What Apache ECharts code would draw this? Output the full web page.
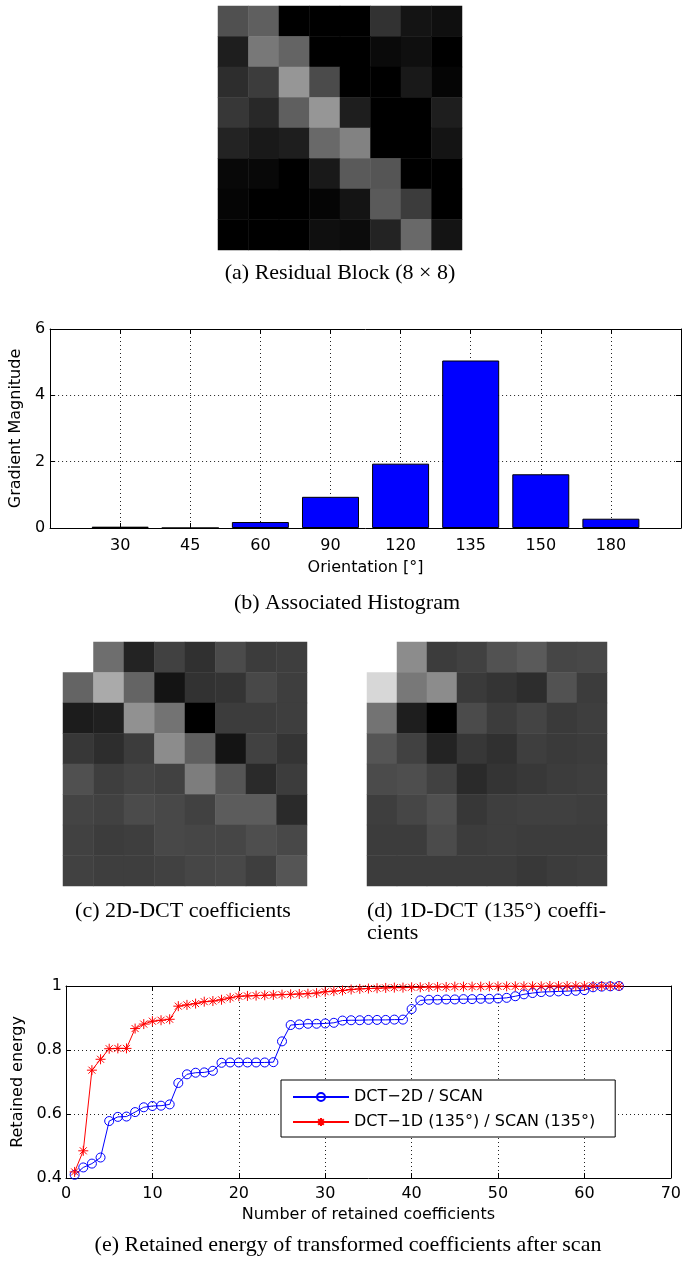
<!DOCTYPE html>
<html>
<head>
<meta charset="utf-8">
<script src="https://cdn.jsdelivr.net/npm/echarts@6/dist/echarts.min.js"></script>
<style>
html,body{margin:0;padding:0;background:#fff}
#main{width:684px;height:1264px}
</style>
</head>
<body>
<div id="main"></div>
<script>
// grey levels (0 = black, 255 = white)
var residualBlock = [
    [80, 95, 0, 0, 0, 50, 20, 15],
    [30, 120, 100, 0, 0, 10, 15, 0],
    [45, 60, 150, 75, 0, 0, 25, 5],
    [55, 40, 95, 150, 30, 0, 0, 30],
    [35, 25, 30, 105, 130, 0, 0, 20],
    [8, 8, 0, 25, 90, 85, 0, 0],
    [5, 0, 0, 5, 20, 90, 60, 0],
    [0, 0, 0, 15, 12, 35, 105, 20]
];
// DC cell left blank (null)
var dct2d = [
    [null, 110, 35, 65, 48, 75, 60, 62],
    [100, 170, 100, 20, 50, 52, 72, 62],
    [28, 32, 145, 115, 0, 60, 60, 62],
    [55, 45, 60, 140, 95, 20, 65, 52],
    [80, 62, 68, 65, 125, 85, 42, 60],
    [68, 65, 75, 72, 65, 92, 92, 42],
    [65, 60, 62, 72, 70, 70, 78, 72],
    [65, 62, 62, 65, 70, 72, 62, 85]
];
var dct1d = [
    [null, 140, 60, 65, 82, 90, 70, 72],
    [215, 120, 140, 58, 52, 45, 82, 60],
    [115, 30, 0, 75, 60, 68, 58, 62],
    [85, 65, 35, 55, 48, 62, 58, 60],
    [75, 78, 65, 42, 52, 56, 60, 62],
    [62, 70, 80, 55, 62, 64, 64, 62],
    [60, 60, 75, 60, 62, 60, 60, 60],
    [60, 60, 60, 60, 60, 56, 60, 62]
];

var orientations = ['30', '45', '60', '90', '120', '135', '150', '180'];
var gradMag = [0.04, 0, 0.18, 0.94, 1.94, 5.05, 1.62, 0.28];

var energy2d = [0.410, 0.433, 0.445, 0.464, 0.578, 0.591, 0.592, 0.606, 0.621, 0.625,
    0.626, 0.630, 0.697, 0.724, 0.729, 0.730, 0.735, 0.760, 0.761, 0.761,
    0.761, 0.761, 0.761, 0.762, 0.827, 0.878, 0.880, 0.882, 0.882, 0.883,
    0.885, 0.892, 0.893, 0.893, 0.894, 0.894, 0.894, 0.895, 0.895, 0.928,
    0.955, 0.957, 0.957, 0.958, 0.958, 0.959, 0.959, 0.960, 0.960, 0.961,
    0.963, 0.968, 0.974, 0.978, 0.981, 0.982, 0.983, 0.984, 0.985, 0.987,
    0.996, 0.998, 0.999, 1.000];
var energy1d = [0.419, 0.485, 0.737, 0.771, 0.804, 0.805, 0.805, 0.867, 0.881, 0.890,
    0.893, 0.896, 0.937, 0.941, 0.945, 0.951, 0.953, 0.957, 0.963, 0.968,
    0.969, 0.970, 0.971, 0.972, 0.973, 0.974, 0.975, 0.976, 0.978, 0.982,
    0.984, 0.986, 0.989, 0.991, 0.992, 0.993, 0.994, 0.995, 0.995, 0.996,
    0.996, 0.997, 0.997, 0.997, 0.998, 0.998, 0.998, 0.998, 0.999, 0.999,
    0.999, 0.999, 0.999, 0.999, 0.999, 1.000, 1.000, 1.000, 1.000, 1.000,
    1.000, 1.000, 1.000, 1.000];

var name2d = 'DCT\u22122D / SCAN';
var name1d = 'DCT\u22121D (135\u00b0) / SCAN (135\u00b0)';

function cells(m) {
    var out = [];
    for (var r = 0; r < m.length; r++) {
        for (var c = 0; c < m[r].length; c++) {
            if (m[r][c] !== null) out.push([c, r, m[r][c]]);
        }
    }
    return out;
}
function xy(arr) {
    return arr.map(function (v, i) { return [i + 1, v]; });
}

var idx8 = ['0', '1', '2', '3', '4', '5', '6', '7'];
var axFont = {fontFamily: 'DejaVu Sans', fontSize: 16, color: '#000'};
var capFont = '22px "Liberation Serif"';
var dots = {color: '#222', type: [1, 3], width: 1};

function hiddenCat(g, inverse) {
    return {type: 'category', gridIndex: g, data: idx8, show: false, inverse: !!inverse};
}
// frame axis (top / right) with inward ticks only
function frameAxis(g, pos, min, max, step) {
    return {
        type: 'value', gridIndex: g, position: pos, min: min, max: max, interval: step,
        axisLine: {show: true, onZero: false, lineStyle: {color: '#000'}},
        axisTick: {show: true, inside: true, length: 5, lineStyle: {color: '#000'}},
        axisLabel: {show: false},
        splitLine: {show: false}
    };
}

// justify caption (d) first line between the edges of its picture
var cv = document.createElement('canvas').getContext('2d');
cv.font = capFont;
var dWords = ['(d)', '1D-DCT', '(135\u00b0)', 'coeffi-'];
var dLeft = 367, dRight = 606;
var wsum = 0;
dWords.forEach(function (w) { wsum += cv.measureText(w).width; });
var gap = (dRight - dLeft - wsum) / (dWords.length - 1);
var dTexts = [];
var cx = dLeft;
dWords.forEach(function (w) {
    dTexts.push({type: 'text', x: cx, y: 911,
        style: {text: w, font: capFont, fill: '#000', textAlign: 'left', textVerticalAlign: 'middle'}});
    cx += cv.measureText(w).width + gap;
});

function caption(t, x, y) {
    return {type: 'text', x: x, y: y,
        style: {text: t, font: capFont, fill: '#000', textAlign: 'center', textVerticalAlign: 'middle'}};
}

var option = {
    animation: false,
    backgroundColor: '#fff',
    grid: [
        {left: 218, top: 6, width: 244, height: 244},
        {left: 50, top: 329, width: 633, height: 199},
        {left: 63, top: 642, width: 244, height: 244},
        {left: 367, top: 642, width: 240, height: 244},
        {left: 66, top: 986, width: 607, height: 192}
    ],
    xAxis: [
        hiddenCat(0),
        {
            type: 'value', gridIndex: 1, min: 0, max: 9, interval: 1, position: 'bottom',
            axisLine: {show: true, onZero: false, lineStyle: {color: '#000'}},
            axisTick: {show: true, inside: true, length: 5, lineStyle: {color: '#000'}},
            axisLabel: Object.assign({margin: 10, formatter: function (v) { return orientations[v - 1] || ''; }}, axFont),
            splitLine: {show: true, lineStyle: dots},
            name: 'Orientation [\u00b0]', nameLocation: 'middle', nameGap: 32, nameTextStyle: axFont
        },
        frameAxis(1, 'top', 0, 9, 1),
        hiddenCat(2),
        hiddenCat(3),
        {
            type: 'value', gridIndex: 4, min: 0, max: 70, interval: 10, position: 'bottom',
            axisLine: {show: true, onZero: false, lineStyle: {color: '#000'}},
            axisTick: {show: true, inside: true, length: 5, lineStyle: {color: '#000'}},
            axisLabel: Object.assign({margin: 8}, axFont),
            splitLine: {show: true, lineStyle: dots},
            name: 'Number of retained coefficients', nameLocation: 'middle', nameGap: 29, nameTextStyle: axFont
        },
        frameAxis(4, 'top', 0, 70, 10)
    ],
    yAxis: [
        hiddenCat(0, true),
        {
            type: 'value', gridIndex: 1, min: 0, max: 6, interval: 2, position: 'left',
            axisLine: {show: true, onZero: false, lineStyle: {color: '#000'}},
            axisTick: {show: true, inside: true, length: 5, lineStyle: {color: '#000'}},
            axisLabel: Object.assign({margin: 5}, axFont),
            splitLine: {show: true, lineStyle: dots},
            name: 'Gradient Magnitude', nameLocation: 'middle', nameGap: 22, nameTextStyle: axFont
        },
        frameAxis(1, 'right', 0, 6, 2),
        hiddenCat(2, true),
        hiddenCat(3, true),
        {
            type: 'value', gridIndex: 4, min: 0.4, max: 1, interval: 0.2, position: 'left',
            axisLine: {show: true, onZero: false, lineStyle: {color: '#000'}},
            axisTick: {show: true, inside: true, length: 5, lineStyle: {color: '#000'}},
            axisLabel: Object.assign({margin: 4}, axFont),
            splitLine: {show: true, lineStyle: dots},
            name: 'Retained energy', nameLocation: 'middle', nameGap: 39, nameTextStyle: axFont
        },
        frameAxis(4, 'right', 0.4, 1, 0.2)
    ],
    visualMap: {
        type: 'continuous', show: false, seriesIndex: [0, 2, 3], dimension: 2,
        min: 0, max: 255, inRange: {color: ['#000000', '#ffffff']}
    },
    legend: {
        data: [name2d, name1d],
        orient: 'vertical',
        left: 281, top: 1080,
        itemWidth: 56, itemHeight: 10, itemGap: 9,
        padding: [9, 20, 7, 11],
        borderColor: '#000', borderWidth: 1, backgroundColor: '#fff',
        textStyle: axFont
    },
    series: [
        {type: 'heatmap', xAxisIndex: 0, yAxisIndex: 0, data: cells(residualBlock)},
        {
            type: 'bar', xAxisIndex: 1, yAxisIndex: 1, barWidth: 57,
            itemStyle: {color: '#0000ff', borderColor: '#000', borderWidth: 1},
            data: xy(gradMag)
        },
        {type: 'heatmap', xAxisIndex: 3, yAxisIndex: 3, data: cells(dct2d)},
        {type: 'heatmap', xAxisIndex: 4, yAxisIndex: 4, data: cells(dct1d)},
        {
            name: name2d, type: 'line', xAxisIndex: 5, yAxisIndex: 5,
            showAllSymbol: true, symbol: 'circle', symbolSize: 9,
            lineStyle: {color: '#0000ff', width: 1},
            itemStyle: {color: 'rgba(0,0,0,0)', borderColor: '#0000ff', borderWidth: 1},
            data: xy(energy2d)
        },
        {
            name: name1d, type: 'line', xAxisIndex: 5, yAxisIndex: 5,
            showAllSymbol: true,
            symbol: 'path://M4,0L4,8M0,4L8,4M1.2,1.2L6.8,6.8M6.8,1.2L1.2,6.8', symbolSize: 10,
            lineStyle: {color: '#ff0000', width: 1},
            itemStyle: {color: '#ff0000', borderColor: '#ff0000', borderWidth: 1},
            data: xy(energy1d)
        }
    ],
    graphic: [
        caption('(a) Residual Block (8 \u00d7 8)', 340, 273),
        caption('(b) Associated Histogram', 347, 603),
        caption('(c) 2D-DCT coefficients', 183, 911),
        {type: 'text', x: 367, y: 933,
            style: {text: 'cients', font: capFont, fill: '#000', textAlign: 'left', textVerticalAlign: 'middle'}},
        caption('(e) Retained energy of transformed coefficients after scan', 348, 1245)
    ].concat(dTexts)
};

var myChart = echarts.init(document.getElementById('main'));
myChart.setOption(option);
</script>
</body>
</html>
